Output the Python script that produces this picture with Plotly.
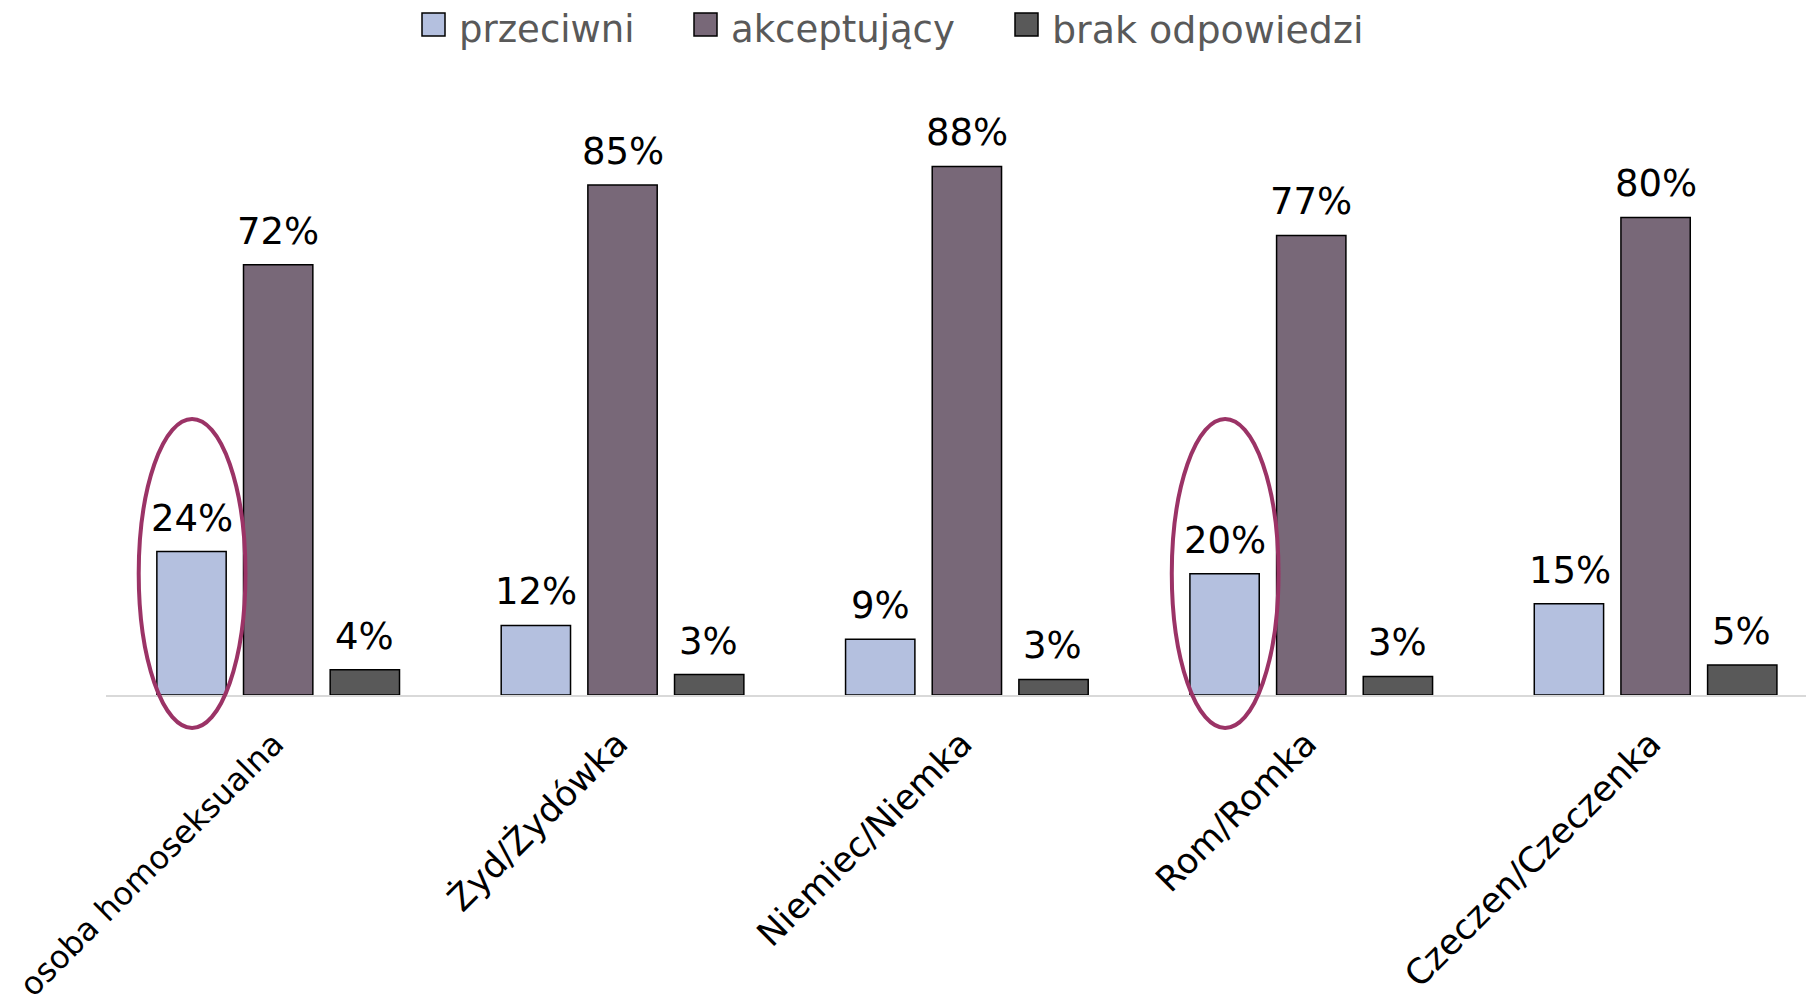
import plotly.graph_objects as go

# categories and series (percent)
categories = ["osoba homoseksualna", "Żyd/Żydówka", "Niemiec/Niemka", "Rom/Romka", "Czeczen/Czeczenka"]
przeciwni = [23.9, 11.6, 9.3, 20.2, 15.2]
akceptujacy = [71.7, 85.0, 88.1, 76.6, 79.6]
brak_odpowiedzi = [4.2, 3.4, 2.6, 3.1, 5.0]
series_names = ["przeciwni", "akceptujący", "brak odpowiedzi"]
highlighted = ["osoba homoseksualna", "Rom/Romka"]

COLORS = ["#B4C0DF", "#786878", "#595959"]
FONT = "'DejaVu Sans', sans-serif"
Y_MAX = 100
X_RANGE = [-0.5, 4.46]          # last category runs slightly past the right edge
OFFSET = 8                      # page body margin
W, H = 1814 - OFFSET, 1005 - OFFSET
M = dict(l=98, r=0, t=87, b=310)
PLOT_W = W - M["l"] - M["r"]
PLOT_H = H - M["t"] - M["b"]
CAT_PX = PLOT_W / (X_RANGE[1] - X_RANGE[0])
SLOT_PX = 0.25 * CAT_PX         # distance between bar centres in a group


def px_x(px):
    return (px - OFFSET - M["l"]) / PLOT_W


def px_y(py):
    return (H - M["b"] - (py - OFFSET)) / PLOT_H


fig = go.Figure()
all_series = [przeciwni, akceptujacy, brak_odpowiedzi]
for name, vals, col in zip(series_names, all_series, COLORS):
    fig.add_trace(go.Bar(
        x=categories, y=vals, name=name, showlegend=False,
        marker=dict(color=col, line=dict(color="black", width=1.5)),
    ))

# value labels above bars
for k, vals in enumerate(all_series):
    for cat, v in zip(categories, vals):
        fig.add_annotation(x=cat, y=v, text=f"{round(v)}%", showarrow=False,
                           xshift=(k - 1) * SLOT_PX, yanchor="bottom", yshift=10,
                           font=dict(size=37, color="black", family=FONT))

# ellipses around the "przeciwni" bar of highlighted groups
for cat in highlighted:
    i = categories.index(cat)
    xc = i - 0.25
    fig.add_shape(type="circle", xref="x", yref="paper",
                  x0=xc - 0.155, x1=xc + 0.155,
                  y0=-5.5 / Y_MAX, y1=46 / Y_MAX,
                  line=dict(color="#9B3366", width=4))

# legend drawn by hand (bigger swatches than plotly's built-in legend)
legend_boxes = [422, 694, 1015]
legend_sizes = [37, 37, 38]
for name, col, bx, fs in zip(series_names, COLORS, legend_boxes, legend_sizes):
    fig.add_shape(type="rect", xref="paper", yref="paper",
                  x0=px_x(bx), x1=px_x(bx + 23), y0=px_y(36), y1=px_y(13),
                  fillcolor=col, line=dict(color="black", width=1.5))
    fig.add_annotation(xref="paper", yref="paper", x=px_x(bx + 35), y=px_y(30),
                       xanchor="left", yanchor="middle", showarrow=False, text=name,
                       font=dict(size=fs, color="#595959", family=FONT))

tick_text = [f'<span style="font-size:32px">{c}</span>' if i == 0 else c
             for i, c in enumerate(categories)]

fig.update_layout(
    width=W, height=H, margin=M,
    paper_bgcolor="white", plot_bgcolor="white",
    barmode="group", bargap=0.245, bargroupgap=0.2,
    font=dict(family=FONT, color="black"),
    showlegend=False,
)
fig.update_xaxes(type="category", range=X_RANGE, tickangle=-45,
                 tickfont=dict(size=35, color="black"),
                 tickvals=categories, ticktext=tick_text,
                 ticklabelstandoff=12, ticklabelshift=-5,
                 showline=True, linecolor="#D9D9D9", linewidth=2, ticks="", automargin=False)
fig.update_yaxes(range=[0, Y_MAX], visible=False, showgrid=False, automargin=False)

fig.write_html("out.html")
